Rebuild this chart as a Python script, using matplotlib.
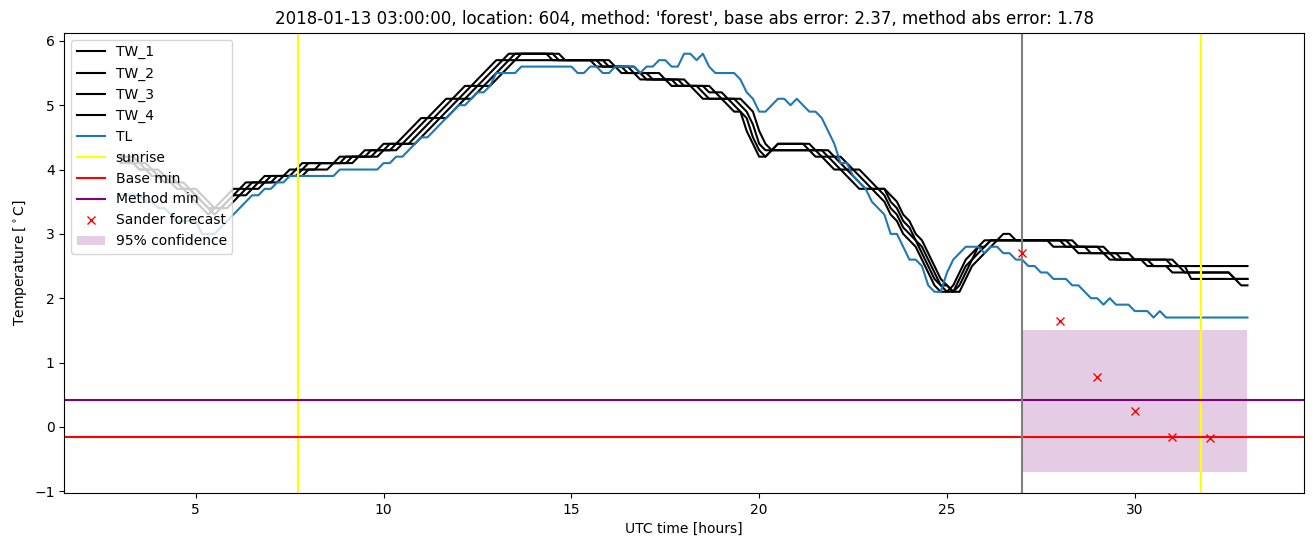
import numpy as np
import matplotlib
matplotlib.use('Agg')
import matplotlib.pyplot as plt

# 10 minute samples from 03:00 to 33:00 (hours since start of the day), one row per hour
hours = np.arange(181) / 6.0 + 3.0

TW_1 = [4.2, 4.1, 4.1, 4.0, 4.0, 3.9,
        3.9, 3.8, 3.8, 3.7, 3.7, 3.6,
        3.5, 3.4, 3.3, 3.4, 3.5, 3.6,
        3.7, 3.7, 3.8, 3.8, 3.8, 3.9,
        3.9, 3.9, 3.9, 4.0, 4.0, 4.1,
        4.1, 4.1, 4.1, 4.1, 4.1, 4.2,
        4.2, 4.2, 4.2, 4.3, 4.3, 4.3,
        4.4, 4.4, 4.4, 4.5, 4.6, 4.7,
        4.8, 4.8, 4.9, 5.0, 5.1, 5.1,
        5.2, 5.3, 5.3, 5.4, 5.5, 5.6,
        5.7, 5.7, 5.8, 5.8, 5.8, 5.8,
        5.8, 5.8, 5.8, 5.7, 5.7, 5.7,
        5.7, 5.7, 5.7, 5.7, 5.6, 5.6,
        5.6, 5.6, 5.5, 5.5, 5.5, 5.4,
        5.4, 5.4, 5.4, 5.4, 5.3, 5.3,
        5.3, 5.3, 5.2, 5.1, 5.1, 5.1,
        5.1, 5.0, 4.9, 4.9, 4.6, 4.4,
        4.2, 4.2, 4.3, 4.3, 4.3, 4.3,
        4.3, 4.3, 4.3, 4.2, 4.2, 4.1,
        4.0, 4.0, 3.9, 3.8, 3.7, 3.7,
        3.7, 3.6, 3.5, 3.3, 3.2, 3.0,
        2.9, 2.8, 2.6, 2.4, 2.2, 2.1,
        2.1, 2.2, 2.4, 2.6, 2.7, 2.8,
        2.9, 2.9, 2.9, 3.0, 3.0, 2.9,
        2.9, 2.9, 2.9, 2.9, 2.9, 2.8,
        2.8, 2.8, 2.8, 2.7, 2.7, 2.7,
        2.7, 2.7, 2.6, 2.6, 2.6, 2.6,
        2.6, 2.6, 2.5, 2.5, 2.5, 2.5,
        2.4, 2.4, 2.4, 2.4, 2.4, 2.4,
        2.4, 2.4, 2.4, 2.4, 2.3, 2.2,
        2.2]
TW_2 = [4.2, 4.2, 4.1, 4.1, 4.0, 4.0,
        3.9, 3.9, 3.8, 3.8, 3.7, 3.7,
        3.6, 3.5, 3.4, 3.4, 3.4, 3.5,
        3.6, 3.7, 3.7, 3.8, 3.8, 3.8,
        3.9, 3.9, 3.9, 3.9, 4.0, 4.0,
        4.1, 4.1, 4.1, 4.1, 4.1, 4.1,
        4.2, 4.2, 4.2, 4.2, 4.3, 4.3,
        4.3, 4.4, 4.4, 4.4, 4.5, 4.6,
        4.7, 4.8, 4.8, 4.9, 5.0, 5.1,
        5.1, 5.2, 5.3, 5.3, 5.4, 5.5,
        5.6, 5.7, 5.7, 5.8, 5.8, 5.8,
        5.8, 5.8, 5.8, 5.8, 5.7, 5.7,
        5.7, 5.7, 5.7, 5.7, 5.7, 5.6,
        5.6, 5.6, 5.6, 5.5, 5.5, 5.5,
        5.4, 5.4, 5.4, 5.4, 5.4, 5.3,
        5.3, 5.3, 5.3, 5.2, 5.1, 5.1,
        5.1, 5.1, 5.0, 4.9, 4.8, 4.5,
        4.3, 4.2, 4.3, 4.4, 4.4, 4.4,
        4.4, 4.4, 4.3, 4.3, 4.2, 4.2,
        4.1, 4.0, 4.0, 3.9, 3.8, 3.7,
        3.7, 3.7, 3.6, 3.4, 3.3, 3.1,
        3.0, 2.9, 2.7, 2.5, 2.3, 2.2,
        2.1, 2.1, 2.3, 2.5, 2.6, 2.8,
        2.8, 2.9, 2.9, 2.9, 2.9, 2.9,
        2.9, 2.9, 2.9, 2.9, 2.9, 2.9,
        2.9, 2.8, 2.8, 2.8, 2.8, 2.7,
        2.7, 2.7, 2.7, 2.6, 2.6, 2.6,
        2.6, 2.6, 2.6, 2.5, 2.5, 2.5,
        2.5, 2.5, 2.5, 2.3, 2.3, 2.3,
        2.3, 2.3, 2.3, 2.3, 2.3, 2.3,
        2.3]
TW_3 = [4.1, 4.1, 4.1, 4.0, 4.0, 4.0,
        3.9, 3.9, 3.8, 3.8, 3.7, 3.7,
        3.6, 3.5, 3.4, 3.3, 3.4, 3.5,
        3.6, 3.6, 3.7, 3.7, 3.8, 3.8,
        3.8, 3.9, 3.9, 3.9, 3.9, 4.0,
        4.0, 4.0, 4.1, 4.1, 4.1, 4.1,
        4.1, 4.2, 4.2, 4.2, 4.2, 4.3,
        4.3, 4.3, 4.4, 4.4, 4.4, 4.5,
        4.6, 4.7, 4.8, 4.8, 4.9, 5.0,
        5.1, 5.1, 5.2, 5.3, 5.3, 5.4,
        5.5, 5.6, 5.7, 5.7, 5.8, 5.8,
        5.8, 5.8, 5.8, 5.8, 5.8, 5.7,
        5.7, 5.7, 5.7, 5.7, 5.7, 5.7,
        5.6, 5.6, 5.6, 5.6, 5.5, 5.5,
        5.5, 5.4, 5.4, 5.4, 5.4, 5.4,
        5.3, 5.3, 5.3, 5.3, 5.2, 5.2,
        5.1, 5.1, 5.1, 5.0, 4.9, 4.7,
        4.4, 4.3, 4.3, 4.4, 4.4, 4.4,
        4.4, 4.4, 4.4, 4.3, 4.3, 4.2,
        4.2, 4.1, 4.0, 4.0, 3.9, 3.8,
        3.7, 3.7, 3.7, 3.5, 3.4, 3.2,
        3.1, 2.9, 2.8, 2.6, 2.4, 2.2,
        2.2, 2.1, 2.2, 2.4, 2.6, 2.7,
        2.8, 2.9, 2.9, 2.9, 2.9, 2.9,
        2.9, 2.9, 2.9, 2.9, 2.9, 2.9,
        2.9, 2.9, 2.8, 2.8, 2.8, 2.8,
        2.8, 2.7, 2.7, 2.7, 2.6, 2.6,
        2.6, 2.6, 2.6, 2.6, 2.6, 2.6,
        2.5, 2.5, 2.4, 2.4, 2.4, 2.4,
        2.4, 2.4, 2.4, 2.4, 2.3, 2.3,
        2.3]
TW_4 = [4.2, 4.2, 4.2, 4.1, 4.1, 4.0,
        4.0, 3.9, 3.9, 3.8, 3.8, 3.7,
        3.7, 3.6, 3.5, 3.4, 3.4, 3.4,
        3.5, 3.6, 3.6, 3.7, 3.7, 3.8,
        3.8, 3.8, 3.9, 3.9, 3.9, 3.9,
        4.0, 4.0, 4.0, 4.0, 4.1, 4.1,
        4.1, 4.1, 4.2, 4.2, 4.2, 4.2,
        4.3, 4.3, 4.3, 4.4, 4.4, 4.4,
        4.5, 4.6, 4.7, 4.8, 4.8, 4.9,
        5.0, 5.1, 5.1, 5.2, 5.3, 5.3,
        5.4, 5.5, 5.6, 5.7, 5.7, 5.7,
        5.7, 5.7, 5.7, 5.7, 5.7, 5.7,
        5.7, 5.7, 5.7, 5.7, 5.7, 5.7,
        5.7, 5.6, 5.6, 5.6, 5.6, 5.5,
        5.5, 5.5, 5.5, 5.4, 5.4, 5.4,
        5.4, 5.3, 5.3, 5.3, 5.3, 5.2,
        5.2, 5.1, 5.1, 5.1, 5.0, 4.9,
        4.6, 4.4, 4.3, 4.3, 4.3, 4.3,
        4.3, 4.3, 4.3, 4.3, 4.3, 4.3,
        4.2, 4.2, 4.1, 4.0, 4.0, 3.9,
        3.8, 3.7, 3.7, 3.6, 3.5, 3.3,
        3.2, 3.0, 2.9, 2.7, 2.5, 2.3,
        2.2, 2.1, 2.1, 2.3, 2.5, 2.6,
        2.7, 2.8, 2.9, 2.9, 2.9, 2.9,
        2.9, 2.9, 2.9, 2.9, 2.9, 2.9,
        2.9, 2.9, 2.9, 2.8, 2.8, 2.8,
        2.8, 2.8, 2.7, 2.7, 2.7, 2.7,
        2.6, 2.6, 2.6, 2.6, 2.6, 2.6,
        2.6, 2.5, 2.5, 2.5, 2.5, 2.5,
        2.5, 2.5, 2.5, 2.5, 2.5, 2.5,
        2.5]
TL = [3.6, 3.6, 3.6, 3.6, 3.5, 3.5,
      3.4, 3.4, 3.3, 3.2, 3.2, 3.2,
      3.2, 3.0, 3.0, 3.0, 3.1, 3.2,
      3.3, 3.4, 3.5, 3.6, 3.6, 3.7,
      3.7, 3.8, 3.8, 3.9, 3.9, 3.9,
      3.9, 3.9, 3.9, 3.9, 3.9, 4.0,
      4.0, 4.0, 4.0, 4.0, 4.0, 4.0,
      4.1, 4.1, 4.2, 4.2, 4.3, 4.4,
      4.5, 4.5, 4.6, 4.7, 4.8, 4.9,
      5.0, 5.0, 5.1, 5.2, 5.2, 5.3,
      5.5, 5.5, 5.5, 5.5, 5.6, 5.6,
      5.6, 5.6, 5.6, 5.6, 5.6, 5.6,
      5.6, 5.5, 5.5, 5.6, 5.6, 5.5,
      5.5, 5.6, 5.6, 5.6, 5.6, 5.5,
      5.6, 5.6, 5.7, 5.7, 5.6, 5.6,
      5.8, 5.8, 5.7, 5.8, 5.6, 5.5,
      5.5, 5.5, 5.5, 5.4, 5.2, 5.1,
      4.9, 4.9, 5.0, 5.1, 5.1, 5.0,
      5.1, 5.0, 4.9, 4.9, 4.8, 4.6,
      4.4, 4.1, 4.1, 3.9, 3.8, 3.7,
      3.5, 3.4, 3.3, 3.0, 3.0, 2.8,
      2.6, 2.6, 2.5, 2.2, 2.1, 2.1,
      2.4, 2.6, 2.7, 2.8, 2.8, 2.8,
      2.7, 2.8, 2.8, 2.7, 2.7, 2.6,
      2.6, 2.5, 2.5, 2.4, 2.4, 2.3,
      2.3, 2.3, 2.2, 2.2, 2.1, 2.0,
      2.0, 1.9, 2.0, 1.9, 1.9, 1.9,
      1.8, 1.8, 1.8, 1.7, 1.8, 1.7,
      1.7, 1.7, 1.7, 1.7, 1.7, 1.7,
      1.7, 1.7, 1.7, 1.7, 1.7, 1.7,
      1.7]

sunrise = [7.72, 31.75]
forecast_start = 27.0
base_min = -0.16
method_min = 0.42

fc_hours = [27, 28, 29, 30, 31, 32]
fc_temp = [2.7, 1.65, 0.77, 0.25, -0.15, -0.17]

conf_x = [27, 33]
conf_low = [-0.7, -0.7]
conf_high = [1.5, 1.5]

fig = plt.figure(figsize=(13.13, 5.47), dpi=100)
ax = fig.add_axes([0.049, 0.099, 0.944, 0.841])

for name, series in zip(['TW_1', 'TW_2', 'TW_3', 'TW_4'], [TW_1, TW_2, TW_3, TW_4]):
    ax.plot(hours, series, color='black', label=name)
ax.plot(hours, TL, color='C0', label='TL')

ax.axvline(sunrise[0], color='yellow', label='sunrise')
ax.axvline(sunrise[1], color='yellow')
ax.axhline(base_min, color='red', label='Base min')
ax.axhline(method_min, color='purple', label='Method min')
ax.axvline(forecast_start, color='gray')
ax.plot(fc_hours, fc_temp, 'rx', label='Sander forecast')
ax.fill_between(conf_x, conf_low, conf_high, color='purple', alpha=0.2,
                linewidth=0, label='95% confidence')

ax.set_xlabel('UTC time [hours]')
ax.set_ylabel('Temperature [$^\\circ$C]')
ax.set_title("2018-01-13 03:00:00, location: 604, method: 'forest', "
             "base abs error: 2.37, method abs error: 1.78")
ax.legend(loc='upper left')

fig.savefig('out.png')
